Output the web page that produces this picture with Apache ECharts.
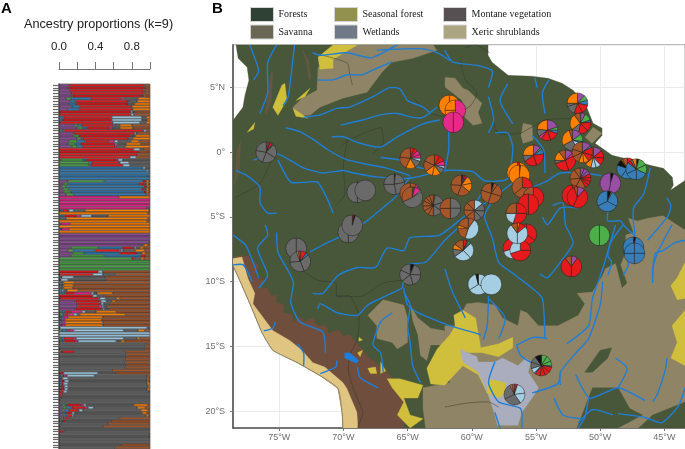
<!DOCTYPE html>
<html><head><meta charset="utf-8">
<script src="https://cdn.jsdelivr.net/npm/echarts@6/dist/echarts.min.js"></script>
<style>html,body{margin:0;padding:0;background:#fff}#c{width:685px;height:449px}</style></head>
<body><div id="c"></div>
<script>
const ancestryNames=['Purple','Green','Blue','Red','Pink','Light blue','Grey','Orange','Brown'];
const ancestryColors=['#8a4a96','#46a044','#2f78b0','#e01a1e','#e32a8c','#9cc6de','#5f5f5f','#f57c05','#a0542a'];
// each row: percent of each ancestry, top to bottom
const rowsRedCluster=[
[11,0,0,82,1,0,0,0,6],[10,0,0,83,1,0,0,0,6],[12,0,0,81,1,0,0,0,6],[13,0,0,80,0,0,0,1,6],
[13,2,0,75,1,1,1,2,5],[8,5,22,33,3,1,15,13,0],[12,0,6,58,1,1,8,14,0],[11,0,8,56,1,1,6,17,0],
[14,0,9,56,0,0,1,20,0],[10,0,12,58,0,1,0,19,0],[1,0,0,78,0,2,3,0,16],[0,0,0,79,0,3,0,0,18],
[0,0,5,53,0,33,5,4,0],[0,0,4,54,0,33,6,3,0],[0,0,1,57,1,30,7,4,0],[17,4,4,33,2,1,6,13,20],
[20,6,5,24,3,1,8,14,19],[1,2,3,86,1,3,0,0,4],[16,0,1,66,0,2,1,0,14],[16,6,1,56,0,1,4,16,0],
[20,4,2,50,1,1,3,19,0],[11,9,9,26,6,4,14,9,12],[10,8,6,36,2,2,10,16,10],
[14,6,6,36,2,1,8,27,0],[0,0,0,82,0,7,3,0,8],
[0,0,0,88,0,0,0,0,12],[0,0,0,86,0,0,0,0,14],
[0,0,0,78,0,7,0,0,15],[2,24,4,33,2,5,30,0,0],[0,33,3,30,1,10,23,0,0],[0,33,2,35,0,8,22,0,0]];
const rowsBlueCluster=[
[0,0,92,0,0,3,5,0,0],[0,0,96,0,0,2,2,0,0],[0,0,100,0,0,0,0,0,0],[0,0,98,0,0,0,2,0,0],[0,0,100,0,0,0,0,0,0],
[10,40,42,3,0,0,1,3,1],[5,5,78,6,0,0,2,3,1],[3,5,85,3,0,0,1,2,1],[4,7,80,3,0,0,2,3,1],[5,8,80,2,0,0,1,3,1],
[8,8,80,0,0,0,0,0,4]];
const rowsPinkOrange=[
[0,0,0,0,66,0,0,34,0],[0,0,0,0,100,0,0,0,0],[0,0,0,0,100,0,0,0,0],[0,0,0,0,100,0,0,0,0],[0,0,0,0,97,0,3,0,0],
[1,1,2,6,1,5,13,70,1],[0,0,0,0,0,0,0,98,2],[0,2,4,13,5,12,18,46,0],[0,0,0,0,0,0,8,90,2],[0,0,0,0,0,0,0,97,3],
[2,0,0,0,10,0,0,88,0],[0,0,0,0,0,0,0,100,0],[2,0,1,0,8,0,0,89,0],[0,0,0,0,0,0,0,100,0]];
const rowsPurpleGreen=[
[100,0,0,0,0,0,0,0,0],[100,0,0,0,0,0,0,0,0],[100,0,0,0,0,0,0,0,0],[99,0,0,0,0,0,1,0,0],[90,0,0,0,0,0,3,5,2],
[13,30,27,11,2,2,4,4,7],[10,6,24,26,2,2,14,10,6],[15,12,40,18,1,1,4,4,5],[13,37,40,5,0,0,1,2,2],
[0,80,0,3,0,0,7,3,7],[0,100,0,0,0,0,0,0,0],[0,100,0,0,0,0,0,0,0],[0,100,0,0,0,0,0,0,0],[0,100,0,0,0,0,0,0,0]];
const rowsBrownMix=[
[0,0,0,43,0,5,0,0,52],[0,0,1,36,0,11,14,0,38],[0,0,2,1,0,13,35,0,49],[0,0,1,1,0,8,42,0,48],
[0,0,2,0,0,1,2,12,83],[0,1,2,0,0,0,2,11,84],[0,0,2,0,0,0,3,10,85],[0,0,3,0,0,2,4,12,79],
[0,2,5,9,19,3,4,17,41],[0,0,0,37,0,5,8,0,50],[0,0,1,42,2,6,12,4,33],[18,0,0,26,2,6,6,4,38],
[20,0,0,25,1,3,7,0,44],[20,0,0,24,3,2,4,0,47],[18,0,0,28,2,2,5,0,45],[1,2,4,6,12,4,12,22,37],[1,3,2,4,6,4,3,50,27],
[1,1,3,0,5,0,0,38,52],[1,1,2,0,3,0,0,40,53],[2,0,2,0,3,0,0,41,52],[2,0,1,0,4,0,0,41,52]];
const rowsLightBlue=[
[0,0,1,0,0,96,3,0,0],[0,3,6,3,4,55,16,7,6],[0,0,0,0,0,100,0,0,0],[0,0,0,0,0,100,0,0,0],
[0,2,3,11,3,52,15,3,11],[1,2,3,12,3,42,5,4,28]];
const rowsGreyCluster=[
[0,0,0,0,0,0,96,0,4],[0,0,0,0,0,0,95,0,5],[1,0,0,0,0,0,94,0,5],
[0,2,1,14,0,0,56,0,27],[0,0,0,0,0,0,74,0,26],[0,0,0,0,0,0,74,0,26],[0,0,0,0,0,0,72,0,28],[0,0,0,0,0,0,73,0,27],
[0,0,0,0,0,0,74,0,26],[0,0,0,0,0,0,73,0,27],[0,0,0,0,0,0,58,0,42],[0,0,1,4,0,38,20,0,37],[0,1,3,2,3,30,58,0,3],
[0,1,1,2,0,6,87,2,1],[0,1,2,3,0,5,86,2,1],[0,1,2,2,0,5,87,3,0],[1,1,1,3,0,4,88,2,0],[0,1,1,4,0,4,87,3,0],
[0,0,1,4,0,4,90,0,1],[0,0,0,3,0,0,97,0,0],[0,0,0,2,0,0,98,0,0],[0,0,0,1,0,0,99,0,0],[0,0,0,0,0,0,100,0,0],
[3,4,2,15,3,3,52,16,2],[4,4,6,15,3,6,48,9,5],[3,3,5,10,1,4,64,8,2],[3,2,3,6,0,3,74,6,3],[4,2,3,5,0,2,80,3,1],
[2,2,2,5,0,1,55,0,33],[1,2,1,3,0,0,50,0,43],[0,0,2,0,0,0,52,0,46],[0,0,1,0,0,0,47,0,52],[0,0,0,0,0,0,100,0,0],
[0,0,0,4,1,0,95,0,0],[0,0,0,0,0,0,99,0,1],[0,0,0,0,0,0,99,0,1],
[0,0,0,0,0,0,100,0,0],[0,0,0,0,0,0,100,0,0],[0,0,0,0,0,0,68,0,32],[0,0,0,0,0,0,62,0,38]];
const ancestryRows=[...rowsRedCluster,...rowsBlueCluster,...rowsPinkOrange,...rowsPurpleGreen,...rowsBrownMix,...rowsLightBlue,...rowsGreyCluster];
const sampleLabels=ancestryRows.map((r,i)=>'S'+(i+1));

// map geography, longitude / latitude in degrees
const lonMin=-78.6,lonMax=-43.39,latMin=-21.31,latMax=8.32;
const lonTicks=[-75,-70,-65,-60,-55,-50,-45];
const latTicks=[5,0,-5,-10,-15,-20];
const landOutline=[[-78.37,8.32],[-78.2,7.27],[-77.5,6.57],[-77.36,5.57],[-77.67,4.41],[-77.83,3.48],[-78.3,2.86],[-78.6,2.47],[-78.6,-8.74],[-77.9,-10.29],[-77.13,-12.06],[-76.35,-13.92],[-75.5,-15.3],[-73.62,-16.24],[-71.83,-17.25],[-70.42,-18.25],[-70.1,-20.1],[-70.03,-21.31],[-43.39,-21.31],[-43.39,-2.17],[-44.53,-2.94],[-44.3,-2.55],[-44.37,-1.93],[-45.07,-1.24],[-46.1,-1.0],[-47.5,-.62],[-49.07,-.23],[-50.4,.7],[-49.85,1.31],[-49.85,1.86],[-50.55,2.24],[-51.17,3.79],[-52.11,4.8],[-52.97,5.34],[-54.06,5.72],[-55.3,5.88],[-57.17,5.95],[-58.42,6.96],[-58.73,7.5],[-58.73,8.32]];
const savannaLlanos=[[-68.94,8.32],[-63.02,8.32],[-62.71,7.89],[-64.58,7.27],[-66.22,6.96],[-67,6.19],[-68.16,4.64],[-70.04,4.18],[-71.83,3.48],[-72.6,2.86],[-73.62,2.86],[-73.93,3.48],[-73.23,4.18],[-72.06,4.8],[-71.98,6.57],[-70.8,7.27]];
const savannaRupununi=[[-62.08,5.8],[-61.3,5.72],[-60.68,4.95],[-60.3,4.8],[-59.2,3.79],[-59.51,3.09],[-59.2,2.24],[-59.9,2.09],[-60.53,2.7],[-60.76,4.02],[-61.46,4.56],[-62.08,5.03]];
const savannaSipaliwini=[[-56,2.24],[-55.3,2.09],[-55.23,.93],[-56,.7],[-56.16,1.31]];
const savannaAmapa=[[-51.17,1.16],[-50.55,1.93],[-49.85,1.47],[-50.63,.7]];
const savannaCerrado=[[-63.6,-21.31],[-63.8,-19.8],[-63.8,-18.2],[-61.7,-17.8],[-62.1,-14.9],[-62.1,-13.4],[-61.3,-13.4],[-60.4,-11.7],[-59.5,-11.6],[-58.2,-11.8],[-57.6,-12.8],[-56.4,-13.4],[-56.2,-12.2],[-55.7,-12.4],[-54.8,-13.4],[-53.3,-13.4],[-51.7,-12.6],[-51.2,-11.7],[-51.8,-10.9],[-50.6,-10.8],[-49.8,-9.5],[-49.6,-9],[-48.8,-8.6],[-48.3,-10.5],[-47.9,-10.1],[-48.4,-8.7],[-48,-7.7],[-48,-6.4],[-47.4,-6.2],[-47.8,-5.1],[-47.1,-5.3],[-46.3,-5.1],[-45.1,-4.9],[-44.8,-5.1],[-43.39,-6],[-43.39,-21.31]];
const savannaBeni=[[-66.9,-11.4],[-68.1,-12.6],[-67.4,-13.4],[-67.4,-14.4],[-66.2,-14.7],[-65.8,-15.2],[-65,-14.7],[-65,-12.8],[-65.3,-11.8]];
const savannaGuapore=[[-64.8,-11.8],[-64.2,-12.8],[-63.2,-13.6],[-62.1,-13.8],[-62.1,-14.9],[-63.2,-14.9],[-63.5,-16.1],[-64,-15.7],[-64.2,-14.1],[-64.6,-13]];
const forestPatchA=[[-51.2,-17],[-50,-15.3],[-49.1,-15.1],[-49.4,-15.9],[-50.6,-17]];
const forestPatchB=[[-51.8,-21.31],[-50.6,-18.2],[-48.6,-18.2],[-47.7,-19.8],[-46.7,-20.3],[-48.6,-21.31]];
const forestPatchC=[[-47,-21.31],[-45.9,-20.3],[-43.39,-19.3],[-43.39,-21.31]];
const montaneAndes=[[-78.4,-8],[-77.4,-8],[-77.1,-8.5],[-76.6,-8.7],[-76.9,-9.6],[-76.2,-9.9],[-76.5,-10.5],[-75.9,-10.5],[-75.6,-11.1],[-75.2,-11],[-75.2,-11.6],[-74.6,-11.8],[-74.7,-12.4],[-74,-12.5],[-73.9,-13.1],[-73.4,-12.7],[-73.1,-13.1],[-72.4,-12.8],[-72,-13.4],[-71.3,-13.4],[-71.2,-14],[-70.4,-13.7],[-70,-14.2],[-69.5,-14.1],[-68.8,-14.9],[-68.1,-15.8],[-66.9,-16.7],[-66.2,-17.4],[-65.2,-19],[-65.3,-21.31],[-70.03,-21.31],[-70.1,-20.1],[-70.42,-18.25],[-71.83,-17.25],[-73.62,-16.24],[-75.5,-15.3],[-76.35,-13.92],[-77.13,-12.06],[-77.9,-10.29],[-78.6,-8.74]];
const montaneStreakA=[[-73.2,7.9],[-72.7,7.1],[-72.5,5.7],[-72.7,5.6],[-72.9,7]];
const montaneStreakB=[[-75.7,6],[-75.5,6.3],[-75.6,4],[-76,2.9],[-76.1,3.1]];
const montaneStreakC=[[-78.3,.2],[-78,.9],[-78.1,-1.4],[-78.5,-2.6]];
const xericCoast=[[-78.6,-8.2],[-77.9,-8.1],[-77.44,-9.74],[-76.9,-10.9],[-77.05,-11.7],[-75.96,-13.15],[-75.5,-13.77],[-74.17,-14.54],[-73.23,-15.3],[-72.4,-16.24],[-71.45,-16.6],[-70.04,-17.8],[-69.73,-18.25],[-68.95,-20.1],[-68.87,-21.31],[-70.03,-21.31],[-70.1,-20.1],[-70.42,-18.25],[-71.83,-17.25],[-73.62,-16.24],[-75.5,-15.3],[-76.35,-13.92],[-77.13,-12.06],[-77.9,-10.29],[-78.6,-8.74]];
const xericPale=[[-43.8,-9.3],[-43.39,-9.1],[-43.39,-10.1]];
const seasonalCentral=[[-63.5,-16.7],[-62.7,-15.2],[-61.7,-14.1],[-61.3,-13.4],[-61.4,-12.6],[-60.7,-12.2],[-59.7,-12.8],[-59.3,-15.1],[-57.9,-14.8],[-56.8,-14.3],[-56.8,-15.1],[-57.9,-15.8],[-59.2,-15.5],[-60.5,-15.5],[-60.1,-16.2],[-58.6,-17],[-57.8,-17.6],[-57.4,-18.6],[-58.8,-18.6],[-59.5,-17.2],[-60.7,-16.5],[-62.1,-18],[-63.2,-17.9]];
const seasonalChain=[[-66.6,-17.5],[-65.6,-17.5],[-63.8,-18],[-64.2,-19],[-65.3,-19],[-64.8,-20.3],[-63.8,-20.6],[-64.8,-21.31],[-65.8,-20.3],[-65.3,-19.3],[-66.2,-18.2]];
const seasonalNorth=[[-70.8,8.32],[-68.87,8.32],[-70.8,7.19],[-70.8,6.5],[-71.83,6.42],[-71.98,7.35]];
const seasonalMagdalena=[[-75.5,3.48],[-74.8,5.18],[-74.56,5.34],[-74.4,4.02],[-75.1,2.86]];
const seasonalSmallA=[[-73.93,3.4],[-72.77,2.63],[-73.7,2.78]];
const seasonalSmallB=[[-73.7,4],[-72.6,4.95],[-73,4.3]];
const seasonalSmallC=[[-77.5,1.55],[-76.9,2.3],[-77,1.8]];
const seasonalSmallD=[[-68.9,-15.5],[-68.5,-15.3],[-68.7,-15.8]];
const seasonalSmallE=[[-68.1,-16.7],[-67.5,-16.6],[-67.4,-17.1],[-67.9,-17.1]];
const seasonalSmallF=[[-67.1,-16.2],[-66.7,-16.9],[-67.1,-17.1]];
const seasonalSmallG=[[-68.8,-14.3],[-68.5,-14.5],[-68.8,-14.6]];
const seasonalEastA=[[-43.39,-8.5],[-44,-9.7],[-44.5,-10.3],[-44,-11.4],[-43.39,-11.3]];
const seasonalEastB=[[-43.39,-12.2],[-44.4,-13.4],[-44,-14.7],[-44.5,-15.9],[-43.39,-16.5]];
const wetlandPantanal=[[-60.9,-15.2],[-60.3,-15.5],[-59.6,-15.8],[-59.5,-16.2],[-58.2,-16.2],[-57.6,-15.9],[-56.4,-16.5],[-55.8,-15.9],[-55.4,-16.2],[-55.6,-17],[-54.8,-18.2],[-55.3,-19],[-56.1,-20.1],[-56.4,-21.1],[-58,-21.1],[-58.2,-20.3],[-58.7,-18.8],[-59.5,-17],[-60.7,-16.2]];
const seasonalOverWetland=[[-58.8,-17.5],[-57.4,-17.8],[-57.4,-18.6],[-57.9,-19],[-58.8,-18.6]];
const lakeTiticaca=[[-69.9,-15.5],[-69.5,-15.5],[-68.8,-16.1],[-69,-16.3],[-69.5,-16.1],[-69.9,-15.9]];
const coastPacificSouth=[[-78.6,-8.74],[-77.9,-10.29],[-77.13,-12.06],[-76.35,-13.92],[-75.5,-15.3],[-73.62,-16.24],[-71.83,-17.25],[-70.42,-18.25],[-70.1,-20.1],[-70.03,-21.31]];
const rivers=[
[[-77,-.6],[-75.2,-.1],[-73.1,-1.2],[-71.6,-1.6],[-70,-1.4],[-69.2,-1.6],[-67.4,-1.9],[-64.8,-2],[-62.1,-1.4],[-60.7,-1.4],[-59.9,-1.5],[-59,-2.2],[-57.6,-2.2],[-56.8,-1.9],[-55.6,-2.7],[-54.3,-2.3],[-53.1,-1.6],[-51.4,-1.6],[-49.9,-1.8]],
[[-74.5,1.9],[-73.4,1.6],[-72.2,.9],[-71.2,.2],[-69.9,-.5],[-68.3,-.9],[-66.7,-1.2],[-64.8,-1.8]],
[[-78.4,-1.4],[-77.5,-1.8],[-76.5,-2.7],[-76.5,-3.9],[-75.9,-4.7],[-75.2,-4.7]],
[[-75.1,-.6],[-74.1,-2.3],[-72.8,-2.3],[-72,-2.3],[-71.3,-3.5],[-70.8,-4.7]],
[[-76.1,-5.6],[-75.9,-6.4],[-76.7,-7.4],[-75.9,-9.5],[-76.6,-10.5]],
[[-75.2,-6.2],[-75.1,-7.7],[-73.9,-10],[-74.1,-11.6],[-73.4,-13.1],[-71.6,-13.9],[-71.4,-15.5]],
[[-72.6,-7.7],[-71.3,-7],[-70,-6.4],[-68.3,-5.4],[-66.7,-4.1],[-66,-3.5],[-64.8,-1.9]],
[[-72.4,-10.9],[-71.6,-10.9],[-70.4,-9.5],[-68.9,-8.9],[-67.5,-8.9],[-66.6,-7.4],[-65.3,-7.6],[-64.8,-6.6],[-62.5,-6.4],[-60.5,-4.9],[-58.6,-3.7],[-56.6,-2.2]],
[[-72,-12.1],[-71.8,-11.7],[-70.5,-12.4],[-68.9,-12.6],[-68.1,-11.8],[-66.9,-11.2],[-65.4,-10.5]],
[[-65.4,-10.5],[-65,-8.7],[-63.6,-8.5],[-62.1,-6.8],[-60.1,-4.9],[-59.3,-3.3],[-57.8,-2.6]],
[[-65.3,-10.5],[-65,-11.8],[-64.2,-12.4],[-62.5,-13.1],[-61.7,-13.4],[-59.3,-14.1]],
[[-65.3,-10.8],[-64.8,-11.8],[-65,-13.4],[-64.8,-14.7],[-64.6,-16.5],[-64,-17.8]],
[[-66.2,-12.4],[-67.1,-13.1],[-67.7,-14.9],[-67.1,-15.5],[-66.9,-17]],
[[-68.9,-16.6],[-68.7,-17.4],[-67.3,-18.2]],
[[-73.6,-14.8],[-73.1,-15.5],[-73.1,-16.5]],
[[-71.8,-17.1],[-70.6,-16.6],[-70.5,-16.1]],
[[-76.2,-13.8],[-75.5,-13.6],[-75.3,-13.1]],
[[-78.6,-8.7],[-77.8,-8.7],[-77.1,-10]],
[[-78.6,-6.4],[-77.6,-7.2],[-76.6,-9.7]],
[[-75.2,8.32],[-75.9,6.9],[-75.9,4.6],[-76.5,3]],
[[-73.8,8.32],[-74,6.6],[-74.3,4.3],[-74.7,3.6]],
[[-77.3,8.32],[-76.6,6.3],[-77,5.6]],
[[-73.1,2.7],[-71.8,2.9],[-70.5,3.4],[-69.5,3.5],[-67.7,4.3],[-66.4,5],[-65.6,4.9],[-65,4],[-63.8,3.5],[-63.2,3]],
[[-72.4,7.7],[-71.8,7.5],[-69.7,7.7],[-67.9,7.3],[-66.9,7.7],[-65.8,8.32]],
[[-72,5.6],[-70.8,5.6],[-69.7,6],[-68.5,6],[-67.4,6.5],[-66.2,7]],
[[-67.4,7.9],[-65.3,8],[-63.8,8],[-62.7,7.7],[-61.7,7.1]],
[[-70.2,2.1],[-68.5,2.5],[-67.1,2.9],[-65.8,3],[-64.6,2.7],[-63.8,2.7],[-62.7,3.5]],
[[-70.9,1.2],[-70,1.2],[-68.7,.7],[-67.1,.4],[-65.8,1.2],[-63.8,2.2],[-62.5,2.5]],
[[-61.8,1.9],[-61.8,.2],[-62.1,-1.4]],
[[-67.1,-.4],[-65.6,-.6],[-64,-1.2],[-62.1,-1.4]],
[[-58.7,4.3],[-58.3,2.5],[-58.7,1.5]],
[[-58.2,1.5],[-57.2,1.5],[-56.8,.4],[-57,-1.4]],
[[-55.3,1.3],[-54.4,.2],[-54.3,-1.6]],
[[-57.2,5.3],[-57.8,4],[-56.8,2.2]],
[[-54,5.6],[-54.5,4.6],[-54.3,3]],
[[-55.1,5.8],[-54.9,5]],
[[-62.1,7.9],[-61.5,7],[-59.5,6.7],[-58.4,6.3],[-58.7,5]],
[[-57.8,-2.9],[-59,-4.9],[-58.4,-6.6],[-57.9,-8.5],[-56.6,-9.5],[-55.3,-10.5],[-54.5,-11.3],[-54.3,-14.4]],
[[-54.7,-9.4],[-54.1,-9.7],[-53.1,-8.5],[-52.1,-7],[-52.7,-5.6],[-52.9,-3.9],[-53.7,-4.1]],
[[-54.5,-5],[-54.1,-5.6],[-53.1,-4.3],[-51.7,-4.3]],
[[-48.8,-5.6],[-49.8,-9],[-50.6,-11.3],[-50.9,-13.4],[-52.6,-14.8]],
[[-46.1,-1.2],[-46.6,-3.2],[-47.4,-4.3],[-47.4,-5.5],[-47.3,-6.4],[-48.2,-5.6],[-48.4,-5.3],[-49.4,-5.3],[-49.4,-4.6]],
[[-48.2,-5.6],[-49.2,-7],[-49.4,-8],[-49.1,-8.5],[-49.4,-9.5]],
[[-47.3,-6.4],[-48,-7.7],[-47.8,-8.7],[-48.2,-9.5]],
[[-44.8,-3.5],[-44.5,-4.1],[-44.7,-4.9],[-46.3,-6.8]],
[[-43.39,-6.8],[-44.2,-7],[-45.1,-7.6],[-45.7,-7.8],[-45.9,-9],[-45.9,-9.5]],
[[-49.8,-10],[-50,-11.8],[-50.9,-14.4],[-51.7,-15.3],[-53.1,-17],[-53.1,-18]],
[[-56.5,-14.9],[-55.2,-14.3],[-54.1,-14.4]],
[[-56.5,-14.9],[-56.2,-15.7],[-55.3,-16.3]],
[[-58.2,-16.2],[-58.7,-17.8],[-57.9,-19.3],[-56.2,-19.8],[-56.1,-21.31]],
[[-58.2,-20.1],[-57.8,-21.31]],
[[-55.3,-18.6],[-53.3,-17.9],[-53.1,-17]],
[[-53.6,-19],[-52.9,-20.3],[-51.5,-20.6]],
[[-50.9,-19],[-51.2,-20.5],[-51.7,-21.31]],
[[-51.9,-17.2],[-50.8,-19],[-48.6,-18.2],[-46.5,-19.2]],
[[-48.8,-15.9],[-47.9,-16.7],[-48.6,-18.2]],
[[-48.6,-20.2],[-46.5,-20.5],[-45.2,-20.9],[-43.9,-19.6],[-43.39,-18.2]],
[[-44.8,-15.9],[-44.9,-16.7],[-45.5,-18.6],[-45.9,-19.3]],
[[-49,-20.3],[-50.6,-19.9],[-51.7,-20.9]],
[[-62.1,-9],[-61.5,-10.8],[-60.5,-12.8]],
[[-58.7,-11.1],[-58.8,-13.4],[-59.1,-14.5]],
[[-58.7,-11.3],[-57.4,-12.8],[-57.9,-14.4]],
[[-44.4,-5.6],[-45.5,-7.7],[-45.9,-9],[-45.9,-10.1]]];
const borders=[
[[-71.6,7.5],[-69.7,6.9],[-69.5,6],[-69.3,5.2]],
[[-64.6,4.2],[-63.2,3],[-61.7,2.7]],
[[-70.2,.4],[-69.7,.9],[-67.1,1.9],[-66.9,.7],[-67.7,-.1]],
[[-69.7,.9],[-70,-1],[-69.9,-3.3],[-70.6,-4.1]],
[[-78.4,-3.5],[-76.5,-2.4],[-75.5,-.4]],
[[-73.4,-9],[-72,-9.9],[-70.6,-10.1],[-70.5,-11.1],[-69.5,-11.1],[-68.8,-12.6],[-68.9,-14.4],[-69.5,-15.7],[-69.6,-17],[-69.1,-18.6],[-68.5,-20.1],[-68.9,-21.31]],
[[-70.6,-11.1],[-68.5,-11.1],[-66.9,-10.1],[-65.4,-9.9]],
[[-62.1,-19.7],[-60.5,-19.4],[-58.7,-19.3],[-57.9,-19.7]],
[[-60.5,8.1],[-59.7,8.32],[-58.6,7.7]],
[[-58.6,4],[-58,1.5],[-56.2,1.5],[-54.3,2.5],[-52.3,2.6]],
[[-61.7,2.7],[-60.1,3.6],[-59.6,4.6],[-60.5,5.6],[-60.9,7.1]]];

// pie sites: longitude, latitude, then clockwise slices from the top (ancestry letter, share)
const pieSites=[
[-76.01,0,['W',.02,'O',.02,'P',.02,'R',.04,'A',.02,'A',.22,'A',.22,'A',.22,'A',.22]],
[-68.92,-3.09,['A',.5,'A',.5]],
[-68.30,-2.94,['A',1]],
[-66.04,-2.47,['K0',.02,'A',.2,'A',.25,'A',.28,'A',.25]],
[-64.79,-3.17,['W',.1,'K',.04,'A',.3,'O',.1,'W',.46]],
[-64.63,-3.48,['G',.02,'B',.02,'K',.1,'L',.02,'A',.52,'W',.32]],
[-64.79,-.46,['R',.06,'R',.06,'K',.07,'K',.06,'L',.05,'A',.12,'O',.15,'W',.2,'W',.23]],
[-62.92,-1,['R',.09,'R',.09,'K',.08,'L',.04,'A',.1,'O',.13,'O',.12,'W',.17,'W',.18]],
[-61.75,3.63,['O',.5,'O',.5]],
[-61.28,3.25,['K',.5,'O',.25,'O',.25]],
[-61.44,2.32,['K',.5,'K',.5]],
[-63,-4.1,['W',.03,'A',.17,'A',.15,'A',.15,'W',.08,'W',.08,'W',.08,'W',.08,'W',.06,'W',.06,'W',.06]],
[-61.67,-4.33,['A',.25,'A',.25,'W',.25,'W',.25]],
[-60.81,-2.55,['K0',.03,'K',.02,'R',.03,'P',.02,'O',.12,'O',.14,'W',.2,'W',.2,'W',.24]],
[-58.48,-3.17,['K0',.04,'W',.06,'W',.2,'W',.25,'W',.25,'W',.2]],
[-59.8,-4.49,['L',.14,'A',.12,'A',.12,'A',.12,'W',.14,'W',.12,'W',.12,'W',.12]],
[-60.27,-5.88,['W',.1,'L',.45,'W',.2,'O',.05,'W',.2]],
[-60.66,-7.58,['R',.06,'K',.02,'G',.03,'B',.02,'L',.25,'L',.27,'A',.12,'O',.08,'W',.15]],
[-59.49,-10.21,['L',.33,'L',.33,'L',.3,'K0',.04]],
[-58.48,-10.21,['L',1]],
[-69.62,-6.19,['A',.5,'A',.5]],
[-69.31,-5.65,['W',.01,'R',.02,'K0',.02,'A',.95]],
[-73.68,-7.42,['A',.5,'A',.5]],
[-73.36,-8.43,['R',.1,'B',.04,'A',.3,'A',.3,'A',.2,'O',.03,'W',.03]],
[-64.79,-9.44,['K0',.06,'A',.2,'A',.2,'A',.18,'A',.18,'A',.18]],
[-51.77,3.79,['P',.12,'G',.08,'B',.08,'R',.14,'R',.13,'A',.15,'A',.05,'O',.25]],
[-51.54,2.24,['P',.08,'G',.12,'B',.03,'R',.15,'R',.15,'A',.12,'O',.25,'W',.1]],
[-54.11,1.7,['P',.2,'G',.05,'B',.05,'R',.15,'R',.15,'K',.05,'A',.12,'O',.23]],
[-52.16,.93,['P',.15,'G',.12,'B',.03,'L',.12,'A',.25,'O',.28,'W',.05]],
[-52.71,-.62,['P',.12,'K',.05,'R',.28,'R',.25,'A',.05,'O',.15,'W',.1]],
[-50.53,-.39,['P',.14,'R',.12,'R',.12,'L',.08,'L',.08,'O',.1,'W',.18,'W',.18]],
[-51.38,0,['P',.14,'B',.03,'R',.13,'R',.1,'O',.08,'O',.08,'W',.12,'W',.12,'W',.2]],
[-55.2,-.23,['P',.12,'G',.03,'B',.08,'R',.22,'R',.2,'A',.1,'O',.25]],
[-56.45,-1.55,['R',.04,'O',.46,'O',.5]],
[-56.29,-1.78,['K0',.02,'O',.48,'O',.5]],
[-56.06,-2.71,['R',.28,'L',.04,'W',.32,'W',.36]],
[-55.2,-3.48,['R',.55,'R',.25,'W',.2]],
[-55.59,-4.02,['R',.5,'R',.5]],
[-56.53,-4.72,['R',.25,'R',.3,'L',.2,'W',.25]],
[-51.54,-2.01,['P',.06,'P',.06,'P',.06,'R',.06,'R',.06,'R',.06,'R',.06,'W',.16,'W',.16,'W',.16,'W',.1]],
[-52.16,-3.33,['R',.5,'R',.5]],
[-51.77,-3.48,['P',.12,'R',.45,'R',.38,'W',.05]],
[-49.2,-2.4,['K0',.05,'P',.48,'P',.47]],
[-49.44,-3.79,['K0',.06,'G',.02,'B',.25,'B',.35,'B',.32]],
[-47.88,-1.24,['R',.08,'R',.08,'B',.22,'B',.22,'B',.2,'K0',.1,'O',.02,'W',.08]],
[-47.18,-1.31,['K0',.04,'G',.14,'G',.14,'B',.18,'B',.18,'B',.18,'R',.04,'A',.04,'O',.06]],
[-50.06,-6.42,['G',.5,'G',.5]],
[-47.41,-7.35,['K0',.04,'B',.48,'B',.48]],
[-47.33,-7.81,['B',.25,'B',.25,'B',.25,'B',.25]],
[-52.24,-8.82,['P',.1,'R',.4,'R',.4,'W',.1]],
[-55.75,-6.34,['R',.35,'R',.3,'L',.3,'R',.05]],
[-56.76,-7.42,['R',.25,'R',.25,'L',.2,'R',.3]],
[-56.22,-7.58,['R',.25,'R',.45,'L',.3]],
[-56.45,-6.26,['O',.04,'R',.1,'L',.36,'L',.4,'W',.1]],
[-54.58,-16.47,['G',.09,'G',.09,'G',.08,'B',.02,'R',.08,'R',.08,'R',.08,'R',.08,'B',.02,'L',.08,'A',.1,'A',.1,'K0',.1]],
[-56.68,-18.72,['K',.03,'R',.02,'L',.18,'L',.17,'A',.28,'A',.25,'O',.03,'W',.04]]
];
const sliceColors={P:'#984ea3',G:'#4daf4a',B:'#377eb8',R:'#e41a1c',K:'#e7298a',L:'#a6cee3',A:'#6a6a6a',O:'#ff7f00',W:'#a65628',K0:'#111111'};

const forestPolys=[landOutline];
const savannaPolys=[savannaCerrado,savannaLlanos,savannaRupununi,savannaSipaliwini,savannaAmapa,savannaBeni,savannaGuapore];
const forestOverlay=[forestPatchA,forestPatchB,forestPatchC];
const montanePolys=[montaneAndes];
const montaneDim=[montaneStreakA,montaneStreakB,montaneStreakC];
const xericPolys=[xericCoast,xericPale];
const seasonalPolys=[seasonalCentral,seasonalChain,seasonalNorth,seasonalMagdalena,seasonalSmallA,seasonalSmallB,seasonalSmallC,seasonalSmallD,seasonalSmallE,seasonalSmallF,seasonalSmallG,seasonalEastA,seasonalEastB];
const wetlandPolys=[wetlandPantanal];

function polySeries(name,polys,color,stroke){
  return {type:'custom',name,xAxisIndex:1,yAxisIndex:1,silent:true,clip:true,z:3,
    data:polys.map((p,i)=>[p[0][0],p[0][1],i]),encode:{x:0,y:1},
    renderItem:(params,api)=>{
      const pts=polys[api.value(2)].map(c=>api.coord(c));
      return {type:'polygon',shape:{points:pts},style:{fill:color,stroke:stroke||color,lineWidth:stroke?.6:.3}};
    }};
}
function lineSeries(name,paths,color,width){
  return {type:'custom',name,xAxisIndex:1,yAxisIndex:1,silent:true,clip:true,z:3,
    data:paths.map((p,i)=>[p[0][0],p[0][1],i]),encode:{x:0,y:1},
    renderItem:(params,api)=>{
      const pts=paths[api.value(2)].map(c=>api.coord(c));
      return {type:'polyline',shape:{points:pts,smooth:.2},style:{fill:null,stroke:color,lineWidth:width}};
    }};
}
const pieRadius=10.4;
const pieSeries={type:'custom',name:'Ancestry pies',xAxisIndex:1,yAxisIndex:1,silent:true,clip:true,z:5,
  data:pieSites.map((s,i)=>[s[0],s[1],i]),encode:{x:0,y:1},
  renderItem:(params,api)=>{
    const c=api.coord([api.value(0),api.value(1)]);
    const s=pieSites[api.value(2)][2];
    const kids=[];let a=-Math.PI/2;
    for(let i=0;i<s.length;i+=2){
      const b=a+s[i+1]*2*Math.PI;
      kids.push({type:'sector',shape:{cx:c[0],cy:c[1],r:pieRadius,r0:0,startAngle:a,endAngle:b,clockwise:true},
        style:{fill:sliceColors[s[i]],stroke:'#222',lineWidth:.5}});
      a=b;
    }
    return {type:'group',children:kids};
  }};

const barSeries=ancestryNames.map((n,k)=>({type:'bar',name:n,stack:'q',xAxisIndex:0,yAxisIndex:0,barCategoryGap:0,silent:true,
  itemStyle:{color:ancestryColors[k],borderColor:'#111',borderWidth:.45},
  data:ancestryRows.map(r=>{const t=r.reduce((x,y)=>x+y,0);return r[k]>0?r[k]/t:'-';})}));

const sans='"Liberation Sans",Arial,sans-serif', serif='"Liberation Serif",serif';
function legendAt(left,items){
  return {left,top:2,orient:'vertical',itemWidth:23,itemHeight:14,itemGap:2.5,selectedMode:false,icon:'rect',
    textStyle:{fontFamily:serif,fontSize:10,color:'#1a1a1a',padding:[0,0,0,0]},
    data:items.map(([name,color])=>({name,itemStyle:{color,borderColor:'#d5d5d5',borderWidth:1}}))};
}
const chart=echarts.init(document.getElementById('c'),null,{renderer:'canvas'});
chart.setOption({
  animation:false,backgroundColor:'#fff',
  title:[
    {text:'A',left:-4,top:-4,textStyle:{fontFamily:sans,fontSize:15,fontWeight:'bold',color:'#000'}},
    {text:'B',left:207,top:-4,textStyle:{fontFamily:sans,fontSize:15,fontWeight:'bold',color:'#000'}},
    {text:'Ancestry proportions (k=9)',left:19,top:13,textStyle:{fontFamily:sans,fontSize:12.7,fontWeight:'normal',color:'#222'}}
  ],
  legend:[
    legendAt(245,[['Forests','#2f4034'],['Savanna','#6a6754']]),
    legendAt(329,[['Seasonal forest','#92924e'],['Wetlands','#707a86']]),
    legendAt(438,[['Montane vegetation','#575052'],['Xeric shrublands','#aba583']])
  ],
  grid:[
    {left:59,top:84,width:91,height:365,show:true,borderColor:'#b5b5b5',borderWidth:1,containLabel:false},
    {left:233,top:44.7,width:452,height:383.3,show:true,borderColor:'#aaa',borderWidth:1,backgroundColor:'#fff'}
  ],
  xAxis:[
    {type:'value',gridIndex:0,position:'top',offset:15,min:0,max:1,interval:.2,
     axisLine:{show:true,lineStyle:{color:'#777',width:1}},
     axisTick:{show:true,length:7,lineStyle:{color:'#777',width:1}},
     axisLabel:{customValues:[0,.4,.8],formatter:v=>v.toFixed(1),margin:16,fontFamily:sans,fontSize:11.5,color:'#222'},
     splitLine:{show:false}},
    {type:'value',gridIndex:1,min:lonMin,max:lonMax,position:'bottom',
     axisLine:{show:true,onZero:false,lineStyle:{color:'#555',width:1.6}},
     axisTick:{show:true,length:3,customValues:lonTicks,lineStyle:{color:'#777'}},
     axisLabel:{customValues:lonTicks,formatter:v=>Math.abs(v)+'°W',margin:5,fontFamily:sans,fontSize:9,color:'#6e6e6e'},
     splitLine:{show:true,lineStyle:{color:'#ebebeb',width:1}}}
  ],
  yAxis:[
    {type:'category',gridIndex:0,inverse:true,data:sampleLabels,
     axisLine:{show:true,lineStyle:{color:'#8c8c8c',width:2}},
     axisTick:{show:true,length:6,interval:0,alignWithLabel:true,lineStyle:{color:'#666',width:1.2}},
     axisLabel:{show:false}},
    {type:'value',gridIndex:1,min:latMin,max:latMax,position:'left',
     axisLine:{show:true,onZero:false,lineStyle:{color:'#555',width:1.6}},
     axisTick:{show:true,length:3,customValues:latTicks,lineStyle:{color:'#777'}},
     axisLabel:{customValues:latTicks,formatter:v=>v===0?'0°':Math.abs(v)+(v>0?'°N':'°S'),margin:8,fontFamily:sans,fontSize:9,color:'#6e6e6e'},
     splitLine:{show:true,lineStyle:{color:'#ebebeb',width:1}}}
  ],
  series:[
    ...barSeries,
    polySeries('Forests',forestPolys,'#485739'),
    polySeries('Savanna',savannaPolys,'#8f8465'),
    polySeries('Forest patches',forestOverlay,'#485739'),
    polySeries('Montane streaks',montaneDim,'#62583f'),
    polySeries('Montane vegetation',montanePolys,'#6f4e3d'),
    polySeries('Xeric shrublands',xericPolys,'#e0c481'),
    polySeries('Seasonal forest',seasonalPolys,'#d0bf3d'),
    polySeries('Wetlands',wetlandPolys,'#a9adbd'),
    polySeries('Seasonal forest',[seasonalOverWetland],'#d0bf3d'),
    lineSeries('Borders',borders,'#33392c',.5),
    lineSeries('Coast',[coastPacificSouth],'#6d6a55',.6),
    lineSeries('Rivers',rivers,'#1f7ed8',1.4),
    polySeries('Lake Titicaca',[lakeTiticaca],'#1f7ed8'),
    pieSeries
  ]
});
</script></body></html>
